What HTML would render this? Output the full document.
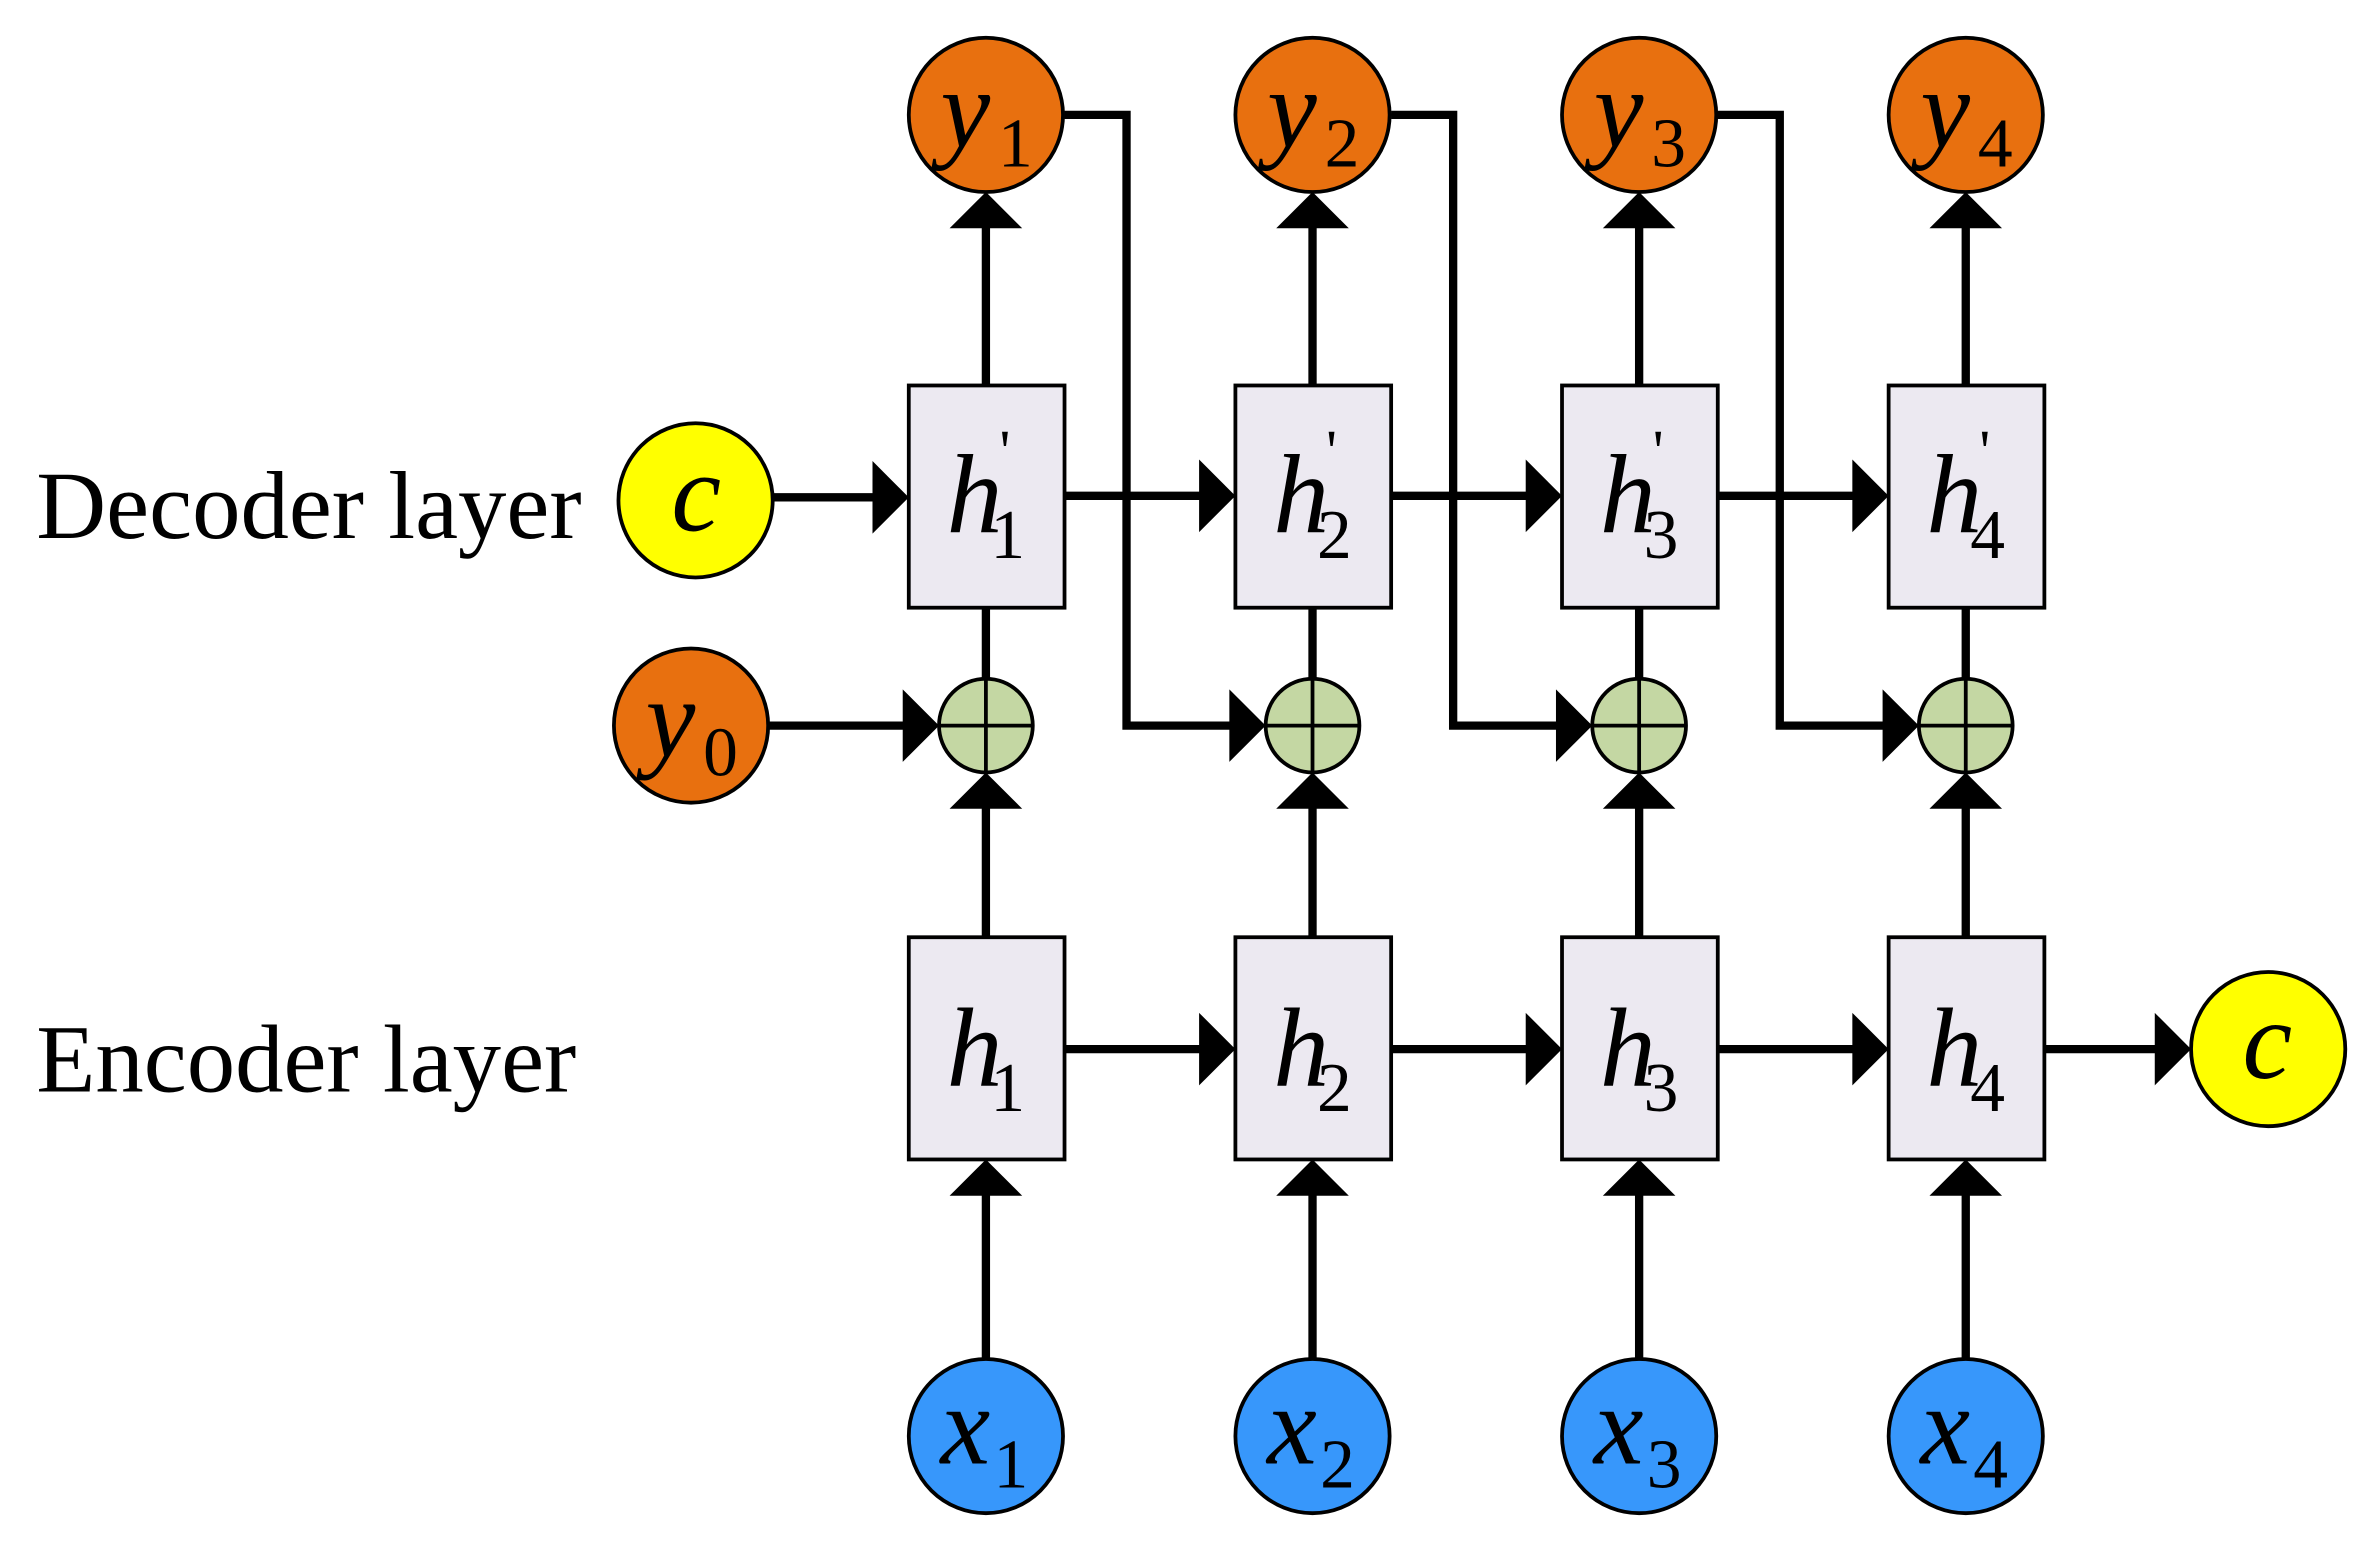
<!DOCTYPE html>
<html><head><meta charset="utf-8"><style>
html,body{margin:0;padding:0;background:#fff;}
svg{display:block;}
text{font-family:"Liberation Serif",serif;}
</style></head><body>
<svg width="2371" height="1554" viewBox="0 0 1568 1028" preserveAspectRatio="none" xmlns="http://www.w3.org/2000/svg">
<defs>
<g id="au"><polygon points="0,0 -24,24 24,24" fill="#000"/></g>
<g id="ar"><polygon points="0,0 -24,-24 -24,24" fill="#000"/></g>
</defs>
<rect width="1568" height="1028" fill="#fff"/>
<g stroke="#000" stroke-width="5.5" fill="none">
<polyline points="704,76 745,76 745,480 820,480"/>
<polyline points="920,76 961,76 961,480 1036,480"/>
<polyline points="1136,76 1177,76 1177,480 1252,480"/>
<line x1="508" y1="480" x2="604" y2="480"/>
<line x1="511" y1="329" x2="584" y2="329"/>
<line x1="704" y1="328" x2="800" y2="328"/>
<line x1="920" y1="328" x2="1016" y2="328"/>
<line x1="1136" y1="328" x2="1232" y2="328"/>
<line x1="704" y1="694" x2="800" y2="694"/>
<line x1="920" y1="694" x2="1016" y2="694"/>
<line x1="1136" y1="694" x2="1232" y2="694"/>
<line x1="1351" y1="694" x2="1432" y2="694"/>
</g>
<g stroke="#000" stroke-width="5.5">
<line x1="652" y1="255" x2="652" y2="145"/><line x1="868" y1="255" x2="868" y2="145"/><line x1="1084" y1="255" x2="1084" y2="145"/><line x1="1300" y1="255" x2="1300" y2="145"/>
<line x1="652" y1="402" x2="652" y2="449"/><line x1="868" y1="402" x2="868" y2="449"/><line x1="1084" y1="402" x2="1084" y2="449"/><line x1="1300" y1="402" x2="1300" y2="449"/>
<line x1="652" y1="620" x2="652" y2="528"/><line x1="868" y1="620" x2="868" y2="528"/><line x1="1084" y1="620" x2="1084" y2="528"/><line x1="1300" y1="620" x2="1300" y2="528"/>
<line x1="652" y1="899" x2="652" y2="785"/><line x1="868" y1="899" x2="868" y2="785"/><line x1="1084" y1="899" x2="1084" y2="785"/><line x1="1300" y1="899" x2="1300" y2="785"/>
</g>
<g>
<use href="#au" x="652" y="127"/><use href="#au" x="868" y="127"/><use href="#au" x="1084" y="127"/><use href="#au" x="1300" y="127"/>
<use href="#au" x="652" y="511"/><use href="#au" x="868" y="511"/><use href="#au" x="1084" y="511"/><use href="#au" x="1300" y="511"/>
<use href="#au" x="652" y="767"/><use href="#au" x="868" y="767"/><use href="#au" x="1084" y="767"/><use href="#au" x="1300" y="767"/>
<use href="#ar" x="601" y="329"/><use href="#ar" x="817" y="328"/><use href="#ar" x="1033" y="328"/><use href="#ar" x="1249" y="328"/>
<use href="#ar" x="621" y="480"/><use href="#ar" x="837" y="480"/><use href="#ar" x="1053" y="480"/><use href="#ar" x="1269" y="480"/>
<use href="#ar" x="817" y="694"/><use href="#ar" x="1033" y="694"/><use href="#ar" x="1249" y="694"/><use href="#ar" x="1449" y="694"/>
</g>
<g fill="#ECE9F1" stroke="#000" stroke-width="2.5">
<rect x="601" y="255" width="103" height="147"/><rect x="817" y="255" width="103" height="147"/><rect x="1033" y="255" width="103" height="147"/><rect x="1249" y="255" width="103" height="147"/>
<rect x="601" y="620" width="103" height="147"/><rect x="817" y="620" width="103" height="147"/><rect x="1033" y="620" width="103" height="147"/><rect x="1249" y="620" width="103" height="147"/>
</g>
<g stroke="#000" stroke-width="2.5">
<circle cx="652" cy="76" r="51" fill="#E8700F"/><circle cx="868" cy="76" r="51" fill="#E8700F"/><circle cx="1084" cy="76" r="51" fill="#E8700F"/><circle cx="1300" cy="76" r="51" fill="#E8700F"/>
<circle cx="457" cy="480" r="51" fill="#E8700F"/>
<circle cx="460" cy="331" r="51" fill="#FFFF00"/><circle cx="1500" cy="694" r="51" fill="#FFFF00"/>
<circle cx="652" cy="950" r="51" fill="#3797FB"/><circle cx="868" cy="950" r="51" fill="#3797FB"/><circle cx="1084" cy="950" r="51" fill="#3797FB"/><circle cx="1300" cy="950" r="51" fill="#3797FB"/>
<g fill="#C4D7A3">
<circle cx="652" cy="480" r="31"/><circle cx="868" cy="480" r="31"/><circle cx="1084" cy="480" r="31"/><circle cx="1300" cy="480" r="31"/>
</g>
</g>
<g stroke="#000" stroke-width="2.5">
<line x1="621" y1="480" x2="683" y2="480"/><line x1="652" y1="449" x2="652" y2="511"/>
<line x1="837" y1="480" x2="899" y2="480"/><line x1="868" y1="449" x2="868" y2="511"/>
<line x1="1053" y1="480" x2="1115" y2="480"/><line x1="1084" y1="449" x2="1084" y2="511"/>
<line x1="1269" y1="480" x2="1331" y2="480"/><line x1="1300" y1="449" x2="1300" y2="511"/>
</g>
<g font-size="64" fill="#000">
<text x="24" y="356">Decoder layer</text>
<text x="24" y="722">Encoder layer</text>
</g>
<g fill="#000">
<text x="622" y="97" font-size="74" font-style="italic">y</text><text x="660" y="110" font-size="46">1</text>
<text x="838" y="97" font-size="74" font-style="italic">y</text><text x="876" y="110" font-size="46">2</text>
<text x="1054" y="97" font-size="74" font-style="italic">y</text><text x="1092" y="110" font-size="46">3</text>
<text x="1270" y="97" font-size="74" font-style="italic">y</text><text x="1308" y="110" font-size="46">4</text>
<text x="427" y="500" font-size="74" font-style="italic">y</text><text x="465" y="513" font-size="46">0</text>
<text x="444" y="351" font-size="74" font-style="italic">c</text>
<text x="1483" y="713" font-size="74" font-style="italic">c</text>
<text x="626" y="352" font-size="74" font-style="italic">h</text><text x="655" y="369" font-size="46">1</text><text x="661" y="312" font-size="40">'</text>
<text x="842" y="352" font-size="74" font-style="italic">h</text><text x="871" y="369" font-size="46">2</text><text x="877" y="312" font-size="40">'</text>
<text x="1058" y="352" font-size="74" font-style="italic">h</text><text x="1087" y="369" font-size="46">3</text><text x="1093" y="312" font-size="40">'</text>
<text x="1274" y="352" font-size="74" font-style="italic">h</text><text x="1303" y="369" font-size="46">4</text><text x="1309" y="312" font-size="40">'</text>
<text x="626" y="718" font-size="74" font-style="italic">h</text><text x="655" y="735" font-size="46">1</text>
<text x="842" y="718" font-size="74" font-style="italic">h</text><text x="871" y="735" font-size="46">2</text>
<text x="1058" y="718" font-size="74" font-style="italic">h</text><text x="1087" y="735" font-size="46">3</text>
<text x="1274" y="718" font-size="74" font-style="italic">h</text><text x="1303" y="735" font-size="46">4</text>
<text x="622" y="968" font-size="74" font-style="italic">x</text><text x="657" y="984" font-size="46">1</text>
<text x="838" y="968" font-size="74" font-style="italic">x</text><text x="873" y="984" font-size="46">2</text>
<text x="1054" y="968" font-size="74" font-style="italic">x</text><text x="1089" y="984" font-size="46">3</text>
<text x="1270" y="968" font-size="74" font-style="italic">x</text><text x="1305" y="984" font-size="46">4</text>
</g>
</svg>
</body></html>
